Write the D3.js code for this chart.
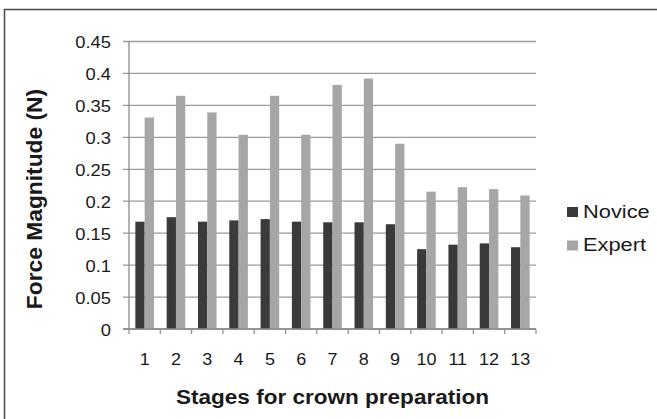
<!DOCTYPE html>
<html><head><meta charset="utf-8">
<script src="https://cdn.jsdelivr.net/npm/d3@7"></script>
<style>html,body{margin:0;padding:0;background:#fff;}svg{display:block;font-family:"Liberation Sans",Arial,sans-serif;}</style>
</head><body>
<script>
const stages = ["1","2","3","4","5","6","7","8","9","10","11","12","13"];
const seriesNames = ["Novice","Expert"];
const novice = [0.168,0.175,0.168,0.170,0.172,0.168,0.167,0.167,0.164,0.125,0.132,0.134,0.128];
const expert = [0.331,0.365,0.339,0.304,0.365,0.304,0.382,0.392,0.290,0.215,0.222,0.219,0.209];
const yTicks = [0,0.05,0.1,0.15,0.2,0.25,0.3,0.35,0.4,0.45];
const colors = ["#3a3a3a","#a6a6a6"];

(function(){
const W=657,H=419;
const svg=d3.select("body").append("svg").attr("width",W).attr("height",H);
svg.append("rect").attr("x",0).attr("y",0).attr("width",W).attr("height",H).attr("fill","#fff");
svg.append("rect").attr("x",4.5).attr("y",9.5).attr("width",700).attr("height",450)
  .attr("fill","none").attr("stroke","#4a4a4a").attr("stroke-width",1.5);

const pL=129,pR=536,pT=41.5,pB=329;
const x=d3.scaleBand().domain(stages).range([pL,pR]).padding(0);
const y=d3.scaleLinear().domain([0,0.45]).range([pB,pT]);
const barW=x.bandwidth()*0.297;
const xs=d3.scaleBand().domain(seriesNames).range([0,barW*2]);

svg.append("g").selectAll("line").data(yTicks).join("line")
  .attr("x1",pL-6).attr("x2",pR).attr("y1",d=>y(d)).attr("y2",d=>y(d))
  .attr("stroke","#9a9a9a").attr("stroke-width",1.3);

function txt(g,xp,yp,s,size,anchor,weight,sx){
  return g.append("text").attr("transform",`translate(${xp},${yp}) scale(${sx},1)`)
    .attr("text-anchor",anchor).attr("font-size",size).attr("font-weight",weight||"normal")
    .attr("fill","#1a1a1a").text(s);
}
const tg=svg.append("g");
yTicks.forEach(t=>txt(tg,111,y(t)+6.8,String(t),17,"end","normal",1.08));

const data=stages.map((s,i)=>({stage:s,vals:[novice[i],expert[i]]}));
const grp=svg.append("g").selectAll("g").data(data).join("g")
  .attr("transform",d=>`translate(${x(d.stage)+(x.bandwidth()-barW*2)/2},0)`);
grp.selectAll("rect").data(d=>d.vals.map((v,j)=>({name:seriesNames[j],v,j}))).join("rect")
  .attr("x",d=>xs(d.name)).attr("width",xs.bandwidth())
  .attr("y",d=>y(d.v)).attr("height",d=>y(0)-y(d.v)).attr("fill",d=>colors[d.j]);

svg.append("line").attr("x1",pL).attr("x2",pL).attr("y1",pT).attr("y2",pB)
  .attr("stroke","#8a8a8a").attr("stroke-width",1.3);
svg.append("line").attr("x1",pL-6).attr("x2",pR).attr("y1",pB).attr("y2",pB)
  .attr("stroke","#8a8a8a").attr("stroke-width",1.3);
const bounds=stages.map(s=>x(s)).concat([pR]);
svg.append("g").selectAll("line").data(bounds).join("line")
  .attr("x1",d=>d).attr("x2",d=>d).attr("y1",pB).attr("y2",pB+5)
  .attr("stroke","#8a8a8a").attr("stroke-width",1.2);
stages.forEach(s=>txt(tg,x(s)+x.bandwidth()/2,364.5,s,17,"middle","normal",1.06));

txt(tg,332.5,404,"Stages for crown preparation",20.5,"middle","bold",1.1);
tg.append("text").attr("transform",`translate(41.5,199) rotate(-90)`)
  .attr("text-anchor","middle").attr("font-size",22.8).attr("font-weight","bold")
  .attr("fill","#1a1a1a").text("Force Magnitude (N)");

const lg=svg.append("g");
seriesNames.forEach((n,i)=>{
  const yy=207+i*33.5;
  lg.append("rect").attr("x",567).attr("y",yy).attr("width",11).attr("height",10).attr("fill",colors[i]);
  txt(lg,583,yy+10.8,n,18.5,"start","normal",1.18);
});
})();
</script>
</body></html>
